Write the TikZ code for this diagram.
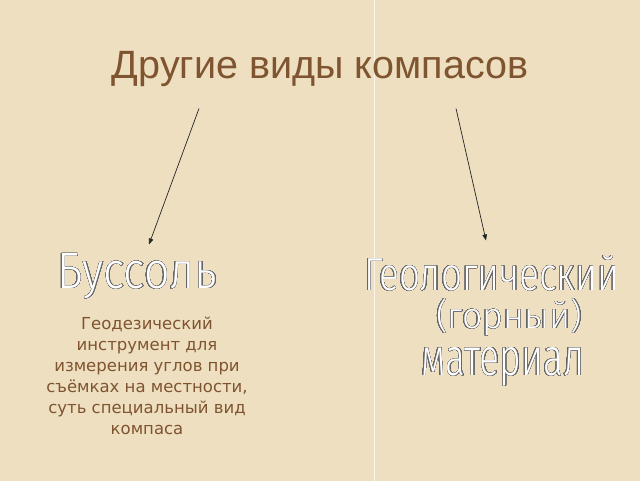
\documentclass[tikz,border=0pt]{standalone}
\usepackage{fontspec}
\setmainfont{Liberation Sans}
\newfontfamily\descfont{DejaVu Sans}
\newfontfamily\thinfont{Fira Sans}[UprightFont={* Light}]
\usepackage{contour}
\usetikzlibrary{arrows.meta}

\definecolor{paper}{HTML}{EEDFC0}
\definecolor{bronze}{HTML}{7F5430}
\contourlength{0.45pt}
\contournumber{48}
\newcommand{\wordart}[3]{\contour{black!60}{\resizebox{#1}{#2}{\thinfont #3}}}

\begin{document}
\begin{tikzpicture}[x=1pt,y=-1pt]
	\tikzstyle{every node}=[inner sep=0pt]
	\tikzstyle{wordart}=[text=white,anchor=base west]
	\tikzstyle{pointer}=[-{Triangle[length=6pt,width=4.5pt]},line width=0.7pt,black!85]

	\fill[paper] (0,0) rectangle (640,480);
	\draw[white!70!paper,line width=1pt] (374,0) -- (374,480); % seam of the paper

	\node[text=bronze,font=\fontsize{39.5}{46}\selectfont,anchor=base] (title) at (320,78) {Другие виды компасов};

	\coordinate (l0) at (199,108);
	\coordinate (l1) at (149,244);
	\coordinate (r0) at (456,108);
	\coordinate (r1) at (486,240);
	\draw[pointer] (l0) -- (l1);
	\draw[pointer] (r0) -- (r1);

	\node[wordart] (bus) at (57,288) {\wordart{160pt}{35pt}{Буссоль}};
	\node[text=bronze,align=center,font=\descfont\fontsize{16.5}{21}\selectfont,anchor=north] (desc) at (147,316)
		{Геодезический\\инструмент для\\измерения углов при\\съёмках на местности,\\суть специальный вид\\компаса};

	\node[wordart] (geo1) at (364,290) {\wordart{255pt}{35pt}{Геологический}};
	\node[wordart] (geo2) at (436,328) {\wordart{146pt}{30pt}{(горный)}};
	\node[wordart] (geo3) at (421,375) {\wordart{163pt}{28pt}{материал}};
\end{tikzpicture}
\end{document}
